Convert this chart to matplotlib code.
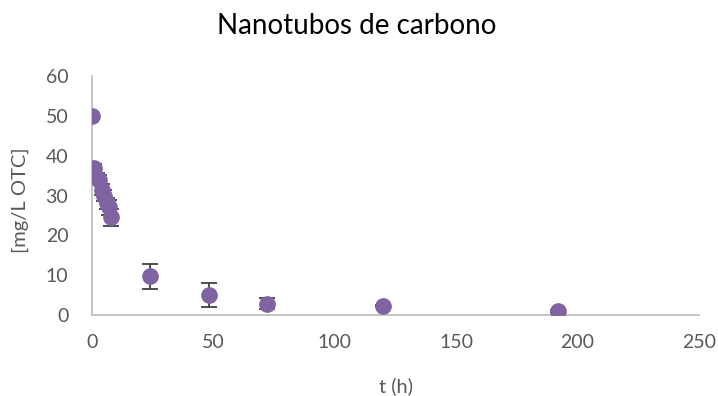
import matplotlib
matplotlib.use("Agg")
import matplotlib.pyplot as plt

# data
t_h = [0, 1, 2, 3, 4, 5, 6, 7, 8, 24, 48, 72, 120, 192]
conc = [50, 37, 34.5, 34, 31.5, 30, 28, 27, 24.5, 9.7, 5.0, 2.8, 2.3, 0.9]
err = [0, 1.0, 1.2, 1.2, 1.3, 1.3, 1.5, 1.8, 2.2, 3.2, 3.0, 1.4, 0.3, 0.3]

plt.rcParams['font.family'] = ['Lato', 'DejaVu Sans']

fig = plt.figure(figsize=(7.18, 3.96), dpi=100)
ax = fig.add_axes([0.1281, 0.2045, 0.8454, 0.6035])

ax.errorbar(t_h, conc, yerr=err, fmt='o', color='#8064A2', markersize=11,
            ecolor='#404040', elinewidth=1.3, capsize=5.5, capthick=1.3, zorder=3)

ax.set_xlim(0, 250)
ax.set_ylim(0, 60)
ax.set_xticks(range(0, 251, 50))
ax.set_yticks(range(0, 61, 10))
ax.tick_params(length=0, labelsize=14, colors='#595959')
ax.tick_params(axis='x', pad=14)
ax.tick_params(axis='y', pad=17)
for s in ['top', 'right']:
    ax.spines[s].set_visible(False)
for s in ['left', 'bottom']:
    ax.spines[s].set_color('#BFBFBF')
    ax.spines[s].set_linewidth(1.3)

fig.text(0.551, 0.025, 't (h)', fontsize=14.5, color='#595959',
         ha='center', va='center')
fig.text(0.028, 0.495, '[mg/L OTC]', fontsize=14.5, color='#595959',
         ha='center', va='center', rotation=90)
fig.text(0.497, 0.935, 'Nanotubos de carbono', fontsize=20, color='#000000',
         ha='center', va='center')

fig.savefig('out.png', dpi=100)
